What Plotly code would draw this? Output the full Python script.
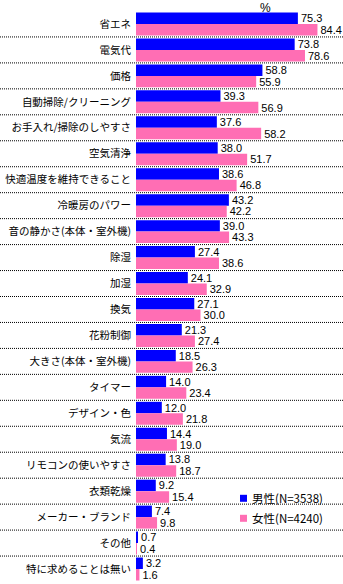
import plotly.graph_objects as go

# Survey: what people look for when choosing an air conditioner (%)
categories = [
    "省エネ", "電気代", "価格", "自動掃除/クリーニング", "お手入れ/掃除のしやすさ",
    "空気清浄", "快適温度を維持できること", "冷暖房のパワー", "音の静かさ(本体・室外機)",
    "除湿", "加湿", "換気", "花粉制御", "大きさ(本体・室外機)", "タイマー",
    "デザイン・色", "気流", "リモコンの使いやすさ", "衣類乾燥", "メーカー・ブランド",
    "その他", "特に求めることは無い",
]
male = [75.3, 73.8, 58.8, 39.3, 37.6, 38.0, 38.6, 43.2, 39.0, 27.4, 24.1,
        27.1, 21.3, 18.5, 14.0, 12.0, 14.4, 13.8, 9.2, 7.4, 0.7, 3.2]
female = [84.4, 78.6, 55.9, 56.9, 58.2, 51.7, 46.8, 42.2, 43.3, 38.6, 32.9,
          30.0, 27.4, 26.3, 23.4, 21.8, 19.0, 18.7, 15.4, 9.8, 0.4, 1.6]
series_names = ["男性(N=3538)", "女性(N=4240)"]
colors = ["#0000FF", "#FF6EB4"]

W, H = 343, 584
ML, MR, MT, MB = 136, 0, 11, 2
plot_w = W - ML - MR
plot_h = H - MT - MB

jp_font = "Noto Sans CJK JP"
num_font = "Liberation Sans Narrow, Arial Narrow, Liberation Sans, sans-serif"

fig = go.Figure()
for name, vals, col in zip(series_names, [male, female], colors):
    fig.add_trace(go.Bar(
        y=categories, x=vals, name=name, orientation="h",
        marker=dict(color=col, line=dict(width=0)),
        text=[f"{v:.1f}" for v in vals], textposition="outside",
        textfont=dict(family=num_font, size=11, color="#000000"),
        constraintext="none", cliponaxis=False, showlegend=False,
        hoverinfo="skip",
    ))

# dotted separators between categories, running across the label area too
shapes = []
for i in range(len(categories) - 1):
    shapes.append(dict(
        type="line", xref="paper", yref="y",
        x0=-ML / plot_w, x1=1.0, y0=i + 0.5, y1=i + 0.5,
        line=dict(color="#000000", width=1, dash="1px,1px"), layer="above",
    ))


def px_to_paper(px, py):
    return (px - ML) / plot_w, (H - MB - py) / plot_h


# legend: small colour squares with labels
legend_px = [(240, 498.3), (240, 518.3)]
annotations = []
for (px, py), name, col in zip(legend_px, series_names, colors):
    xp, yp = px_to_paper(px, py)
    shapes.append(dict(
        type="rect", xref="paper", yref="paper",
        xsizemode="pixel", ysizemode="pixel",
        xanchor=xp, yanchor=yp, x0=0, x1=7, y0=-3.5, y1=3.5,
        fillcolor=col, line=dict(width=0),
    ))
    annotations.append(dict(
        xref="paper", yref="paper", x=xp, y=yp, xshift=10,
        xanchor="left", yanchor="middle", showarrow=False, text=name,
        font=dict(family=jp_font, size=11.5, color="#000000"),
    ))

# unit label above the bars
pct_x = (265.5 - ML) / plot_w
annotations.append(dict(
    xref="paper", yref="paper", x=pct_x, y=1.0, yshift=MT,
    xanchor="center", yanchor="top", showarrow=False, text="%",
    borderpad=0,
    font=dict(family="Liberation Sans, sans-serif", size=12, color="#000000"),
))

fig.update_layout(
    width=W, height=H,
    margin=dict(l=ML, r=MR, t=MT, b=MB, pad=0),
    paper_bgcolor="#FFFFFF", plot_bgcolor="#FFFFFF",
    barmode="group", bargap=0.115, bargroupgap=0,
    showlegend=False,
    xaxis=dict(range=[0, plot_w / 2.15], visible=False, fixedrange=True),
    yaxis=dict(
        type="category", autorange="reversed", showgrid=False, zeroline=False,
        showline=False, ticks="", ticklabelstandoff=4,
        tickfont=dict(family=jp_font, size=10.5, color="#000000"),
        fixedrange=True,
    ),
    shapes=shapes, annotations=annotations,
)

fig.write_html("out.html", config={"displayModeBar": False})
